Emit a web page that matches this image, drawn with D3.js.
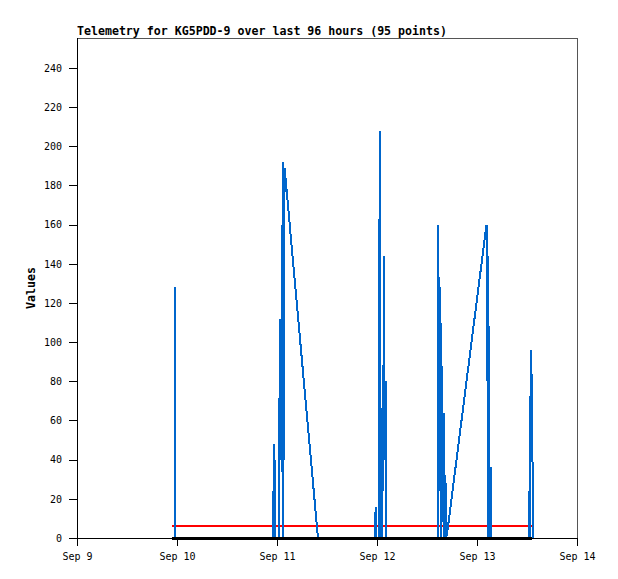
<!DOCTYPE html>
<html>
<head>
<meta charset="utf-8">
<script src="https://cdn.jsdelivr.net/npm/d3@7"></script>
<style>
    html, body { margin: 0; padding: 0; background: #fff; }
    svg { display: block; }
</style>
</head>
<body>
<svg id="chart" width="618" height="579"></svg>
<script>
'use strict';

// hours since Sep 9 00:00 (UTC)
var ch1Hours = [
    22.80, 23.42, 23.52, 23.64, 35.28,
    47.04, 47.16, 47.38, 47.52,
    48.48, 48.62, 48.84, 49.06, 49.25, 49.34, 49.51, 49.63, 49.82,
    57.84, 64.80,
    71.57, 71.66, 71.81, 72.38, 72.48, 72.70, 72.91,
    73.25, 73.34, 73.49, 73.63, 73.82, 74.04, 74.21,
    80.40,
    86.54, 86.71, 86.98, 87.22, 87.38, 87.60, 87.77, 87.98, 88.18, 88.42, 88.61, 88.87,
    98.28, 98.38, 98.54, 98.69, 98.88, 99.05, 99.31, 99.46,
    103.92,
    108.48, 108.58, 108.70, 108.84, 109.01, 109.30, 109.42
];
var ch1Values = [
    0, 0, 128, 0, 0,
    0, 24, 48, 0,
    0, 80, 112, 40, 160, 0, 192, 40, 189,
    0, 0,
    0, 16, 0, 0, 104, 208, 0,
    0, 72, 24, 144, 40, 80, 0,
    0,
    0, 160, 24, 128, 0, 88, 8, 64, 0, 32, 0, 3,
    160, 80, 144, 0, 108, 0, 36, 0,
    0,
    0, 24, 0, 72, 96, 48, 0
];

var ch2Hours = [22.80, 109.25];
var ch2Values = [6, 6];

var ch3Hours = [22.80, 109.25];
var ch3Values = [0, 0];

var titleText = 'Telemetry for KG5PDD-9 over last 96 hours (95 points)';
var yLabelText = 'Values';
var yTicks = [0, 20, 40, 60, 80, 100, 120, 140, 160, 180, 200, 220, 240];

(function() {
    var t0 = Date.UTC(2019, 8, 9);
    var tEnd = Date.UTC(2019, 8, 14);

    var svg = d3.select('#chart');
    var pl = 77, pr = 577, pt = 38, pb = 538;
    var mono = '"DejaVu Sans Mono", "Liberation Mono", monospace';

    var x = d3.scaleUtc()
        .domain([new Date(t0), new Date(tEnd)])
        .range([pl, pr]);

    var y = d3.scaleLinear()
        .domain([0, 255.3])
        .range([pb, pt]);

    function toPoints(hours, values) {
        return hours.map(function(h, i) {
            return [new Date(t0 + h * 3600e3), values[i]];
        });
    }

    var line = d3.line()
        .x(function(d) { return x(d[0]); })
        .y(function(d) { return y(d[1]); });

    // title
    svg.append('text')
        .attr('x', pl)
        .attr('y', 35)
        .style('font-family', mono)
        .style('font-size', '11.6px')
        .style('font-weight', 'bold')
        .text(titleText);

    // y axis
    var yAxis = d3.axisLeft(y)
        .tickValues(yTicks)
        .tickSize(8)
        .tickPadding(7)
        .tickSizeOuter(0);

    var gy = svg.append('g')
        .attr('transform', 'translate(' + pl + ',0)')
        .call(yAxis);

    // x axis
    var xAxis = d3.axisBottom(x)
        .ticks(d3.utcDay.every(1))
        .tickFormat(d3.utcFormat('%b %-d'))
        .tickSize(8)
        .tickPadding(7)
        .tickSizeOuter(0);

    var gx = svg.append('g')
        .attr('transform', 'translate(0,' + pb + ')')
        .call(xAxis);

    [gx, gy].forEach(function(g) {
        g.select('.domain').remove();
        g.selectAll('line').attr('stroke', '#000').attr('shape-rendering', 'crispEdges');
        g.selectAll('text')
            .style('font-family', mono)
            .style('font-size', '10px')
            .attr('fill', '#000');
    });

    // frame
    svg.append('rect')
        .attr('x', pl + 0.5)
        .attr('y', pt + 0.5)
        .attr('width', pr - pl)
        .attr('height', pb - pt)
        .attr('fill', 'none')
        .attr('stroke', '#555')
        .attr('shape-rendering', 'crispEdges');

    svg.append('path')
        .attr('d', 'M' + (pl + 0.5) + ',' + pt + 'V' + (pb + 0.5) + 'H' + (pr + 0.5))
        .attr('fill', 'none')
        .attr('stroke', '#000')
        .attr('shape-rendering', 'crispEdges');

    // y label
    svg.append('text')
        .attr('transform', 'translate(35,' + ((pt + pb) / 2) + ') rotate(-90)')
        .attr('text-anchor', 'middle')
        .style('font-family', mono)
        .style('font-size', '11.6px')
        .style('font-weight', 'bold')
        .text(yLabelText);

    // series
    svg.append('path')
        .datum(toPoints(ch2Hours, ch2Values))
        .attr('d', line)
        .attr('fill', 'none')
        .attr('stroke', '#ff0000')
        .attr('stroke-width', 2.5)
        .attr('shape-rendering', 'crispEdges');

    svg.append('path')
        .datum(toPoints(ch1Hours, ch1Values))
        .attr('d', line)
        .attr('fill', 'none')
        .attr('stroke', '#0066cc')
        .attr('stroke-width', 2)
        .attr('stroke-linejoin', 'bevel')
        .attr('shape-rendering', 'crispEdges');

    svg.append('path')
        .datum(toPoints(ch3Hours, ch3Values))
        .attr('d', line)
        .attr('fill', 'none')
        .attr('stroke', '#000')
        .attr('stroke-width', 3)
        .attr('shape-rendering', 'crispEdges');
})();
</script>
</body>
</html>
